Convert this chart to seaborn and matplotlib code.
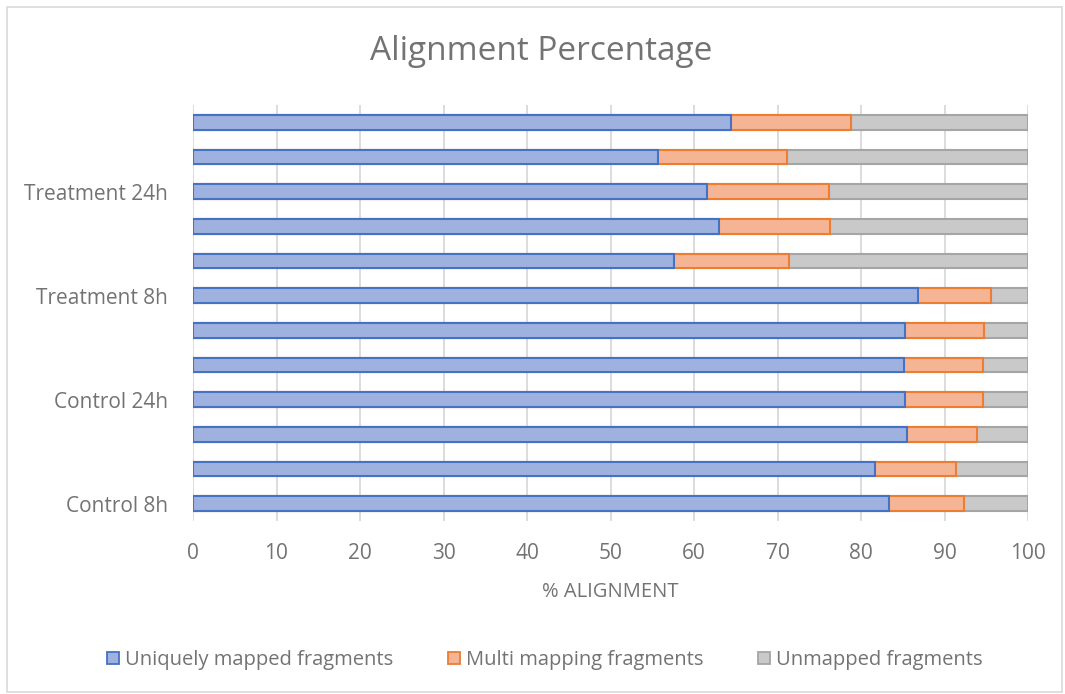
import matplotlib
matplotlib.use("Agg")
import matplotlib.pyplot as plt
import matplotlib.patches as mpatches
import pandas as pd
import seaborn as sns

# samples listed top to bottom, as they appear in the chart
samples = ["T24_3", "T24_2", "T24_1", "T8_3", "T8_2", "T8_1",
           "C24_3", "C24_2", "C24_1", "C8_3", "C8_2", "C8_1"]
tick_labels = ["", "", "Treatment 24h", "", "", "Treatment 8h",
               "", "", "Control 24h", "", "", "Control 8h"]
uniquely = [64.4, 55.7, 61.6, 63.0, 57.6, 86.8, 85.3, 85.1, 85.3, 85.5, 81.7, 83.3]
multi = [14.4, 15.4, 14.6, 13.3, 13.8, 8.8, 9.4, 9.5, 9.3, 8.4, 9.7, 9.0]
unmapped = [100 - u - m for u, m in zip(uniquely, multi)]

series = ["Uniquely mapped fragments", "Multi mapping fragments", "Unmapped fragments"]
fills = ["#9fb1df", "#f5b595", "#c9c9c9"]
edges = ["#4472c4", "#ed7d31", "#a5a5a5"]

df = pd.DataFrame({"sample": samples, "uniq": uniquely, "multi": multi, "unmapped": unmapped})
df["c1"] = df["uniq"]
df["c2"] = df["uniq"] + df["multi"]
df["c3"] = df["c2"] + df["unmapped"]

sns.set_style("white")
plt.rcParams["font.family"] = ["Open Sans", "DejaVu Sans"]
text_col = "#737373"

fig = plt.figure(figsize=(10.65, 6.94), dpi=100)
ax = fig.add_axes([193 / 1065, 1 - 521 / 694, (1028 - 193) / 1065, (521 - 105) / 694])

# stacked bars drawn as cumulative totals, largest first
for col, fc, ec in zip(["c3", "c2", "c1"], fills[::-1], edges[::-1]):
    sns.barplot(data=df, x=col, y="sample", order=samples, orient="h",
                color=fc, saturation=1, width=0.42, edgecolor=ec, linewidth=1.5, ax=ax)

ax.set_xlim(0, 100)
ax.set_ylim(len(samples) - 0.5, -0.5)
ax.set_xticks(range(0, 101, 10))
ax.set_yticks(range(len(samples)))
ax.set_yticklabels(tick_labels)
ax.xaxis.grid(True, color="#d9d9d9", linewidth=1.3)
ax.set_axisbelow(True)
for s in ax.spines.values():
    s.set_visible(False)
ax.tick_params(axis="both", length=0, colors=text_col, labelsize=15)
ax.tick_params(axis="y", pad=18)
ax.tick_params(axis="x", pad=15.5)
ax.set_ylabel("")
ax.set_xlabel("% ALIGNMENT", color=text_col, fontsize=14.5, labelpad=13)

fig.suptitle("Alignment Percentage", x=541 / 1065, y=1 - 52 / 694, va="center",
             color=text_col, fontsize=24)

handles = [mpatches.Patch(facecolor=f, edgecolor=e, linewidth=1.3) for f, e in zip(fills, edges)]
fig.legend(handles, series, loc="center", bbox_to_anchor=(545 / 1065, 1 - 660 / 694), ncol=3,
           frameon=False, fontsize=14.5, labelcolor=text_col, handlelength=0.6,
           handleheight=0.6, handletextpad=0.3, columnspacing=2.7)

fig.add_artist(mpatches.Rectangle((7 / 1065, 2 / 694), 1055 / 1065, 685 / 694,
                                  transform=fig.transFigure, fill=False,
                                  edgecolor="#d9d9d9", linewidth=1.2))

fig.savefig("out.png", dpi=100)
